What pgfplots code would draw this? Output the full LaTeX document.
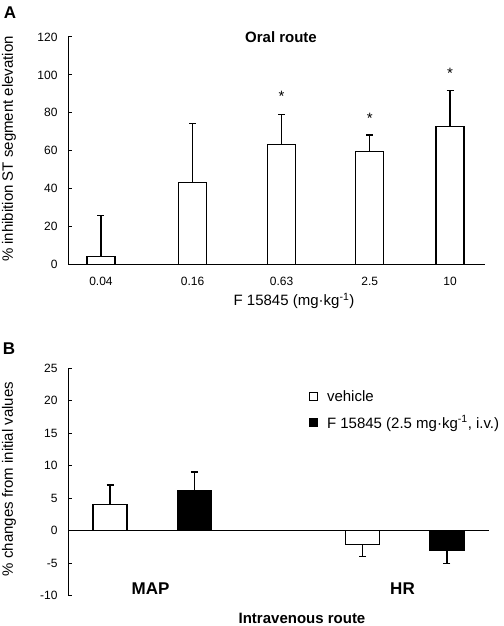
\documentclass[border=0pt]{standalone}
\usepackage{pgfplots}
\pgfplotsset{compat=1.18}
\usepackage{fontspec}
\setmainfont{Liberation Sans}
\newcommand\tickf{\fontsize{12}{14}\selectfont}
\newcommand\labf{\fontsize{15}{18}\selectfont}
\newcommand\bigf{\fontsize{17}{20}\selectfont\bfseries}
\begin{document}
\begin{tikzpicture}
\useasboundingbox (0,0) rectangle (503pt,626pt);
% ---------------- Panel A ----------------
\begin{axis}[
  at={(68pt,361.7pt)}, anchor=south west,
  scale only axis, width=417pt, height=227.3pt,
  axis x line=bottom, axis y line=left,
  axis line style={-, line width=1pt},
  xmin=-0.378, xmax=4.40, ymin=0, ymax=120,
  ytick={0,20,...,120},
  xtick={0,1.05,2.07,3.08,4.0},
  xticklabels={0.04,0.16,0.63,2.5,10},
  xtick style={draw=none},
  tick align=inside, major tick length=3.5pt,
  ytick style={line width=1pt, black},
  tick label style={font=\tickf},
  /pgf/number format/assume math mode=true,
  yticklabel style={xshift=-7pt},
  xticklabel style={yshift=-9pt},
  clip=false,
]
\addplot[ybar, bar width=28pt, bar shift=0pt, fill=white, draw=black, line width=1.3pt,
  error bars/.cd, y dir=plus, y explicit,
  error bar style={line width=1.3pt},
  error mark options={rotate=90, mark size=3.5pt, line width=1.3pt}]
coordinates {(0,4.2) +- (0,21.7) (1.05,43.0) +- (0,31.3) (2.07,63.1) +- (0,16.0) (3.08,59.5) +- (0,8.7) (4.0,72.6) +- (0,19.2)};
\addplot[only marks, mark=text, text mark={*}, text mark as node=true,
  text mark style={font=\labf, inner sep=0pt}]
coordinates {(2.07,88.6) (3.08,77.3) (4.0,100.7)};
\end{axis}
% ---------------- Panel B ----------------
\begin{axis}[
  at={(68pt,30.3pt)}, anchor=south west,
  scale only axis, width=421pt, height=227.7pt,
  axis x line=middle, axis y line=left,
  axis line style={-, line width=1pt},
  xmin=0, xmax=10, ymin=-10, ymax=25,
  ytick={-10,-5,...,25},
  xtick=\empty,
  tick align=inside, major tick length=3.5pt,
  ytick style={line width=1pt, black},
  tick label style={font=\tickf},
  /pgf/number format/assume math mode=true,
  yticklabel style={xshift=-7pt},
  clip=false,
  legend style={draw=none, fill=none, font=\labf, at={(0.5725,0.912)}, anchor=north west,
    row sep=9pt, inner sep=0pt,
    /tikz/every odd column/.append style={column sep=7.5pt}},
  legend cell align=left,
]
\addplot[forget plot, ybar, bar width=34pt, bar shift=0pt, fill=white, draw=black, line width=1.3pt,
  error bars/.cd, y dir=plus, y explicit,
  error bar style={line width=1.3pt},
  error mark options={rotate=90, mark size=3.5pt, line width=1.3pt}]
coordinates {(1,4) +- (0,3)};
\addplot[forget plot, ybar, bar width=34pt, bar shift=0pt, fill=black, draw=black, line width=1.3pt,
  error bars/.cd, y dir=plus, y explicit,
  error bar style={line width=1.3pt},
  error mark options={rotate=90, mark size=3.5pt, line width=1.3pt}]
coordinates {(3,6.1) +- (0,2.9)};
\addplot[forget plot, ybar, bar width=34pt, bar shift=0pt, fill=white, draw=black, line width=1.3pt,
  error bars/.cd, y dir=minus, y explicit,
  error bar style={line width=1.3pt},
  error mark options={rotate=90, mark size=3.5pt, line width=1.3pt}]
coordinates {(7,-2.1) +- (0,1.9)};
\addplot[forget plot, ybar, bar width=34pt, bar shift=0pt, fill=black, draw=black, line width=1.3pt,
  error bars/.cd, y dir=minus, y explicit,
  error bar style={line width=1.3pt},
  error mark options={rotate=90, mark size=3.5pt, line width=1.3pt}]
coordinates {(9,-3) +- (0,2.1)};
\addlegendimage{legend image code/.code={\draw[fill=white,draw=black,line width=0.9pt] (0pt,-3.7pt) rectangle (7.4pt,3.7pt);}}
\addlegendentry{vehicle}
\addlegendimage{legend image code/.code={\draw[fill=black,draw=black,line width=0.9pt] (0pt,-3.7pt) rectangle (7.4pt,3.7pt);}}
\addlegendentry{F 15845 (2.5 mg·kg\textsuperscript{-1}, i.v.)}
\end{axis}
% ---------------- Labels ----------------
\node[font=\bigf] at (10pt,613.5pt) {A};
\node[font=\labf\bfseries] at (281pt,589pt) {Oral route};
\node[font=\labf, rotate=90] at (9pt,477pt) {\% inhibition ST segment elevation};
\node[font=\labf] at (294pt,325pt) {F 15845 (mg·kg\textsuperscript{-1})};
\node[font=\bigf] at (9pt,277pt) {B};
\node[font=\labf, rotate=90] at (9pt,147pt) {\% changes from initial values};
\node[font=\bigf] at (150.5pt,37pt) {MAP};
\node[font=\bigf] at (402.5pt,37pt) {HR};
\node[font=\labf\bfseries] at (302pt,8pt) {Intravenous route};
\end{tikzpicture}
\end{document}
